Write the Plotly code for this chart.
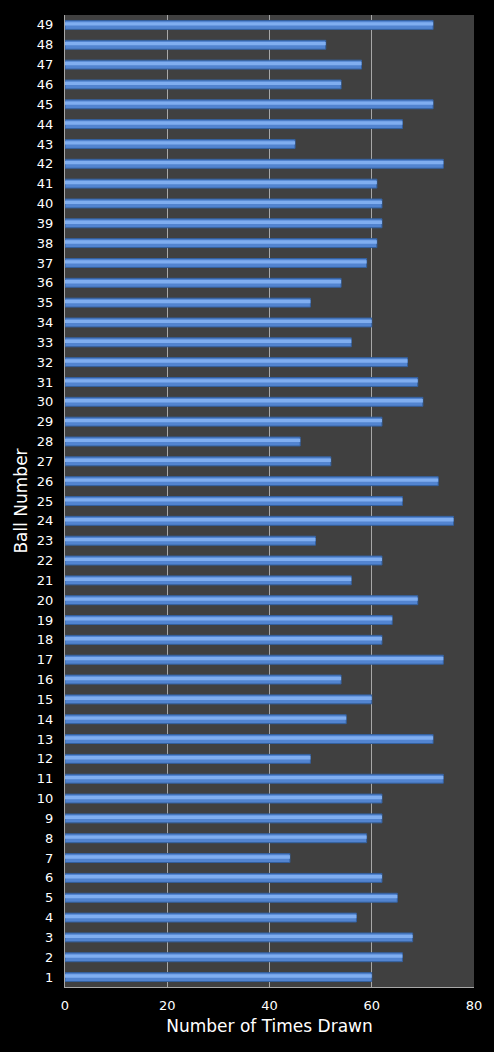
import plotly.graph_objects as go

ball_numbers = [str(i) for i in range(1, 50)]
times_drawn = [
    60, 66, 68, 57, 65, 62, 44, 59, 62, 62,
    74, 48, 72, 55, 60, 54, 74, 62, 64, 69,
    56, 62, 49, 76, 66, 73, 52, 46, 62, 70,
    69, 67, 56, 60, 48, 54, 59, 61, 62, 62,
    61, 74, 45, 66, 72, 54, 58, 51, 72,
]
x_ticks = [0, 20, 40, 60, 80]

fig = go.Figure()

# main bar
fig.add_trace(
    go.Bar(
        x=times_drawn,
        y=ball_numbers,
        orientation="h",
        width=0.45,
        marker=dict(color="#5284d0", line=dict(color="#34609e", width=1)),
        hoverinfo="x+y",
    )
)
# light stripe to fake the glossy look
fig.add_trace(
    go.Bar(
        x=times_drawn,
        y=ball_numbers,
        orientation="h",
        width=0.17,
        offset=-0.03,
        marker=dict(color="#80aef0", line=dict(width=0)),
        hoverinfo="skip",
    )
)

fig.update_layout(
    width=494,
    height=1052,
    barmode="overlay",
    showlegend=False,
    paper_bgcolor="black",
    plot_bgcolor="#404040",
    margin=dict(l=65, r=20, t=15, b=65),
    font=dict(family="DejaVu Sans", color="white", size=13),
)
fig.update_xaxes(
    range=[0, 80],
    tickvals=x_ticks,
    showgrid=True,
    gridcolor="#a8a8a8",
    gridwidth=1,
    zeroline=False,
    showline=True,
    linecolor="#a8a8a8",
    linewidth=1,
    ticks="",
    ticklabelstandoff=6,
    tickfont=dict(size=13),
    title=dict(text="Number of Times Drawn", font=dict(size=17), standoff=8),
)
fig.update_yaxes(
    type="category",
    range=[-0.5, 48.5],
    showgrid=False,
    showline=True,
    linecolor="#a8a8a8",
    linewidth=1,
    ticks="",
    ticklabelstandoff=8,
    tickfont=dict(size=13),
    title=dict(text="Ball Number", font=dict(size=17), standoff=4),
)

# page margin off so the chart fills the window
fig.write_html(
    "out.html",
    config={"displayModeBar": False},
    post_script="document.body.style.margin='0';document.body.style.overflow='hidden';",
)
